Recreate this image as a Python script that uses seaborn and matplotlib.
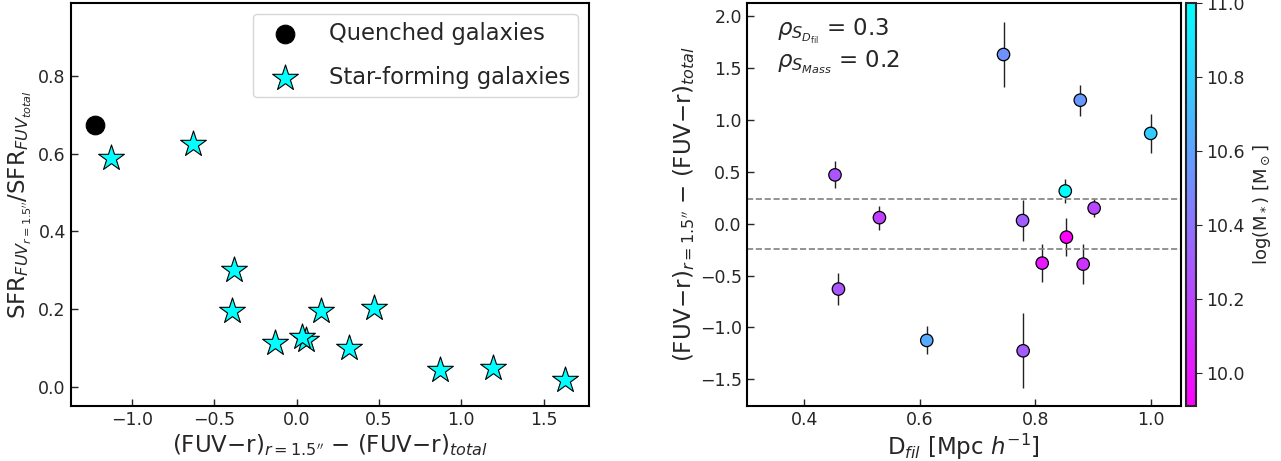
import numpy as np
import pandas as pd
import matplotlib
matplotlib.use("Agg")
import matplotlib.pyplot as plt
import seaborn as sns

sns.set_style("white")
plt.rcParams['font.family'] = ['DejaVu Sans']

# per-galaxy values
d_fil = [0.745, 0.878, 1.000, 0.453, 0.852, 0.902, 0.530, 0.778, 0.854, 0.812, 0.883, 0.459, 0.612, 0.779]
delta_color = [1.63, 1.19, 0.87, 0.47, 0.315, 0.15, 0.058, 0.03, -0.13, -0.38, -0.39, -0.63, -1.125, -1.225]
delta_err = [0.31, 0.15, 0.19, 0.13, 0.12, 0.09, 0.115, 0.20, 0.18, 0.18, 0.19, 0.15, 0.135, 0.36]
log_mass = [10.53, 10.56, 10.78, 10.27, 11.0, 10.22, 10.18, 10.31, 9.91, 10.02, 10.13, 10.28, 10.64, 10.30]
sfr_ratio = [0.017, 0.047, 0.043, 0.202, 0.100, 0.195, 0.120, 0.129, 0.113, 0.301, 0.195, 0.625, 0.590, 0.674]
quenched = [False] * 13 + [True]
rho_dfil = 0.3
rho_mass = 0.2
band = 0.24

df = pd.DataFrame({'D_fil': d_fil, 'dcol': delta_color, 'err': delta_err,
                   'mass': log_mass, 'sfr': sfr_ratio, 'quenched': quenched})

fig = plt.figure(figsize=(12.81, 4.61), dpi=100)
ax1 = fig.add_axes([0.0552, 0.1193, 0.4046, 0.875])
ax2 = fig.add_axes([0.5829, 0.1193, 0.3388, 0.875])
cax = fig.add_axes([0.9256, 0.1193, 0.0080, 0.875])

# left panel
q = df[df['quenched']]
sf = df[~df['quenched']]
sns.scatterplot(data=q, x='dcol', y='sfr', ax=ax1, color='black', marker='o', s=180,
                edgecolor='black', linewidth=0.8, label='Quenched galaxies')
sns.scatterplot(data=sf, x='dcol', y='sfr', ax=ax1, color='cyan', marker='*', s=380,
                edgecolor='black', linewidth=0.8, label='Star-forming galaxies')
ax1.set_xlim(-1.372, 1.775)
ax1.set_ylim(-0.05, 0.99)
ax1.set_xticks([-1.0, -0.5, 0.0, 0.5, 1.0, 1.5])
ax1.set_yticks([0.0, 0.2, 0.4, 0.6, 0.8])
ax1.set_xlabel(r"(FUV$-$r)$_{r=1.5''}$ $-$ (FUV$-$r)$_{total}$", fontsize=16.5, labelpad=2)
ax1.set_ylabel(r"SFR$_{FUV_{r=1.5''}}$/SFR$_{FUV_{total}}$", fontsize=16.5, labelpad=3)
ax1.legend(loc='upper right', fontsize=16.3, handlelength=2.2, handletextpad=0.8,
           borderpad=0.35, labelspacing=0.95)

# right panel
norm = plt.Normalize(vmin=min(log_mass), vmax=max(log_mass))
ax2.errorbar(df['D_fil'], df['dcol'], yerr=df['err'], fmt='none', ecolor='#222222',
             elinewidth=1, zorder=1)
sns.scatterplot(data=df, x='D_fil', y='dcol', hue='mass', palette='cool_r', hue_norm=norm,
                ax=ax2, s=80, edgecolor='black', linewidth=0.9, legend=False, zorder=3)
ax2.axhline(band, color='gray', ls='--', lw=1.2)
ax2.axhline(-band, color='gray', ls='--', lw=1.2)
ax2.set_xlim(0.3, 1.052)
ax2.set_ylim(-1.757, 2.13)
ax2.set_xticks([0.4, 0.6, 0.8, 1.0])
ax2.set_yticks([-1.5, -1.0, -0.5, 0.0, 0.5, 1.0, 1.5, 2.0])
ax2.set_xlabel(r"D$_{fil}$ [Mpc $h^{-1}$]", fontsize=16.5, labelpad=2)
ax2.set_ylabel(r"(FUV$-$r)$_{r=1.5''}$ $-$ (FUV$-$r)$_{total}$", fontsize=16.5, labelpad=2)
ax2.text(0.07, 0.93, r"$\rho_{S_{D_{\rm fil}}}$ = %.1f" % rho_dfil, transform=ax2.transAxes,
         fontsize=16.5, va='center')
ax2.text(0.07, 0.852, r"$\rho_{S_{Mass}}$ = %.1f" % rho_mass, transform=ax2.transAxes,
         fontsize=16.5, va='center')

sm = plt.cm.ScalarMappable(cmap='cool_r', norm=norm)
cb = fig.colorbar(sm, cax=cax)
cb.set_ticks([10.0, 10.2, 10.4, 10.6, 10.8, 11.0])
cb.set_label(r"log(M$_*$) [M$_\odot$]", fontsize=13, labelpad=4)
cb.ax.tick_params(labelsize=12.5, length=4)
cb.outline.set_linewidth(1.5)

for ax in (ax1, ax2):
    ax.tick_params(direction='in', length=5, width=1, labelsize=12.5, top=False, right=False,
                   left=True, bottom=True)
    for sp in ax.spines.values():
        sp.set_linewidth(1.5)
        sp.set_color('black')

fig.savefig('out.png', dpi=100)
